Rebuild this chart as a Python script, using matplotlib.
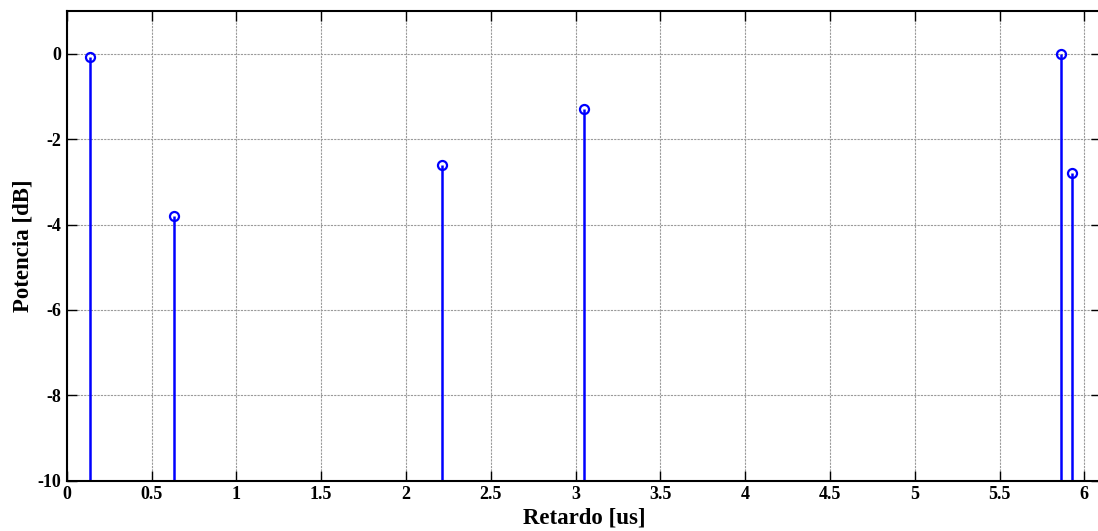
import matplotlib
matplotlib.use("Agg")
import matplotlib.pyplot as plt
import numpy as np

delays = [0.14, 0.63, 2.21, 3.05, 5.86, 5.93]
power_db = [-0.08, -3.8, -2.6, -1.3, 0.0, -2.8]
xticks = [0, 0.5, 1, 1.5, 2, 2.5, 3, 3.5, 4, 4.5, 5, 5.5, 6]
xticklabels = ["0", "0.5", "1", "1.5", "2", "2.5", "3", "3.5", "4", "4.5", "5", "5.5", "6"]
yticks = [-10, -8, -6, -4, -2, 0]
yticklabels = ["-10", "-8", "-6", "-4", "-2", "0"]

plt.rcParams['font.family'] = ['Liberation Serif', 'DejaVu Serif']
plt.rcParams['font.weight'] = 'bold'

W, H = 1098, 531
fig = plt.figure(figsize=(W / 100, H / 100), dpi=100)
left_px, bottom_px, top_px = 66.7, 480.7, 11.0
xmax = 6.1
px_per_unit = 169.6
width_px = xmax * px_per_unit
ax = fig.add_axes([left_px / W, (H - bottom_px) / H, width_px / W, (bottom_px - top_px) / H])

markerline, stemlines, baseline = ax.stem(delays, power_db, bottom=-10, basefmt=' ')
plt.setp(stemlines, color='#0000ff', linewidth=1.8)
plt.setp(markerline, marker='o', markersize=6.5, markerfacecolor='none',
         markeredgecolor='#0000ff', markeredgewidth=1.6)

ax.set_xlim(0, xmax)
ax.set_ylim(-10, 1)
ax.set_xticks(xticks)
ax.set_xticklabels(xticklabels)
ax.set_yticks(yticks)
ax.set_yticklabels(yticklabels)
ax.grid(True, color='#9a9a9a', linestyle=(0, (2, 1)), linewidth=0.8)
ax.set_axisbelow(True)
ax.tick_params(direction='in', length=7, width=1.0, top=True, right=True,
               labelsize=13, pad=4)
for lbl in ax.get_xticklabels() + ax.get_yticklabels():
    lbl.set_fontweight('bold')
for s in ax.spines.values():
    s.set_linewidth(1.5)

ax.set_xlabel('Retardo [us]', fontsize=16.5, fontweight='bold', labelpad=3)
ax.set_ylabel('Potencia [dB]', fontsize=16.5, fontweight='bold', labelpad=3)

fig.savefig('out.png', dpi=100)
